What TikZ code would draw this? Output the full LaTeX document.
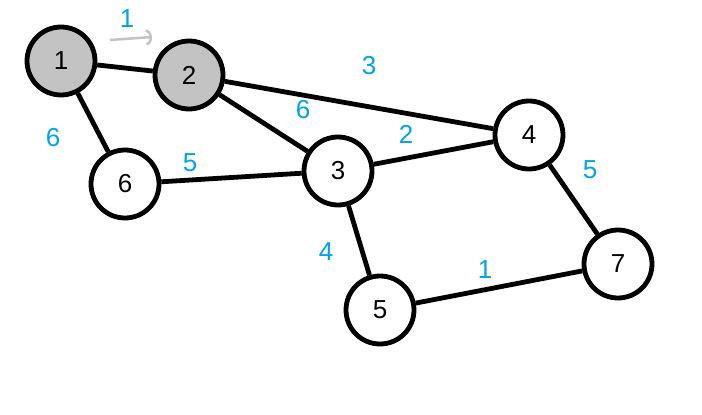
\documentclass[tikz,border=0pt]{standalone}
\usepackage{fontspec}
\setmainfont{Liberation Sans}
\usetikzlibrary{arrows.meta}
\definecolor{paintblue}{RGB}{0,162,232}
\definecolor{paintgrey}{RGB}{195,195,195}

\begin{document}
\begin{tikzpicture}[x=1pt, y=-1pt,
    vertex/.style = {circle, draw, line width=4.8pt, minimum size=68pt, inner sep=0pt, font=\fontsize{26}{26}\selectfont},
    visited/.style = {vertex, fill=paintgrey},
    edge/.style = {line width=4.8pt},
    weight/.style = {text=paintblue, font=\fontsize{26}{26}\selectfont}
]
\useasboundingbox (0,0) rectangle (702,415);

% Vertices
\node[visited] (v1) at (61,61) {1};
\node[visited] (v2) at (189,75) {2};
\node[vertex] (v3) at (338,171) {3};
\node[vertex] (v4) at (529,135) {4};
\node[vertex] (v5) at (380,310) {5};
\node[vertex] (v6) at (125,184) {6};
\node[vertex] (v7) at (618,264) {7};

% Edges
\draw[edge] (v1) -- (v2);
\draw[edge] (v1) -- (v6);
\draw[edge] (v2) -- (v4);
\draw[edge] (v2) -- (v3);
\draw[edge] (v6) -- (v3);
\draw[edge] (v3) -- (v4);
\draw[edge] (v3) -- (v5);
\draw[edge] (v4) -- (v7);
\draw[edge] (v5) -- (v7);

% Weights
\node[weight] (w12) at (127,19) {1};
\node[weight] (w16) at (53,138) {6};
\node[weight] (w24) at (369,66) {3};
\node[weight] (w23) at (303,110) {6};
\node[weight] (w63) at (190,163) {5};
\node[weight] (w34) at (406,134) {2};
\node[weight] (w47) at (590,170) {5};
\node[weight] (w35) at (326,252) {4};
\node[weight] (w57) at (485,270) {1};

% Direction hint
\coordinate (hintstart) at (110,40);
\coordinate (hintend) at (152,37);
\draw[paintgrey, line width=2.5pt, -{Arc Barb[length=6pt, width=16pt]}] (hintstart) -- (hintend);

\end{tikzpicture}
\end{document}
